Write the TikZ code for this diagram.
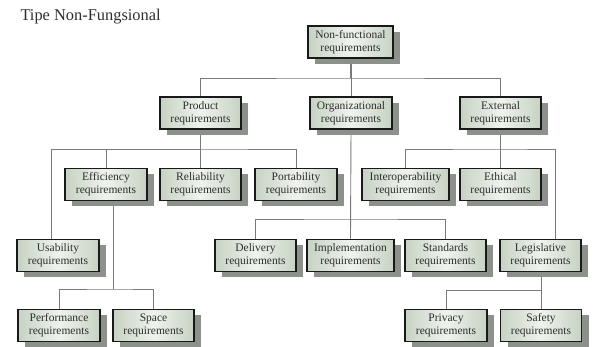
\documentclass[tikz,border=0pt]{standalone}
\usepackage{fontspec}
\setmainfont{Liberation Serif}
\usetikzlibrary{shadows,backgrounds}
\definecolor{boxedge}{HTML}{C6D2C3}
\definecolor{boxmid}{HTML}{EFF3ED}
\definecolor{shadowgray}{HTML}{8C918C}
\definecolor{linegray}{HTML}{7A7A7A}
\definecolor{txt}{HTML}{2E2E2E}
\tikzset{
  reqbox/.style={draw=black!90, line width=1.8pt, left color=boxedge, right color=boxedge, middle color=boxmid,
    align=center, inner sep=0pt, minimum height=32pt, minimum width=#1, text=txt,
    font=\fontsize{11.5}{12.8}\selectfont,
    general shadow={fill=shadowgray, shadow xshift=7pt, shadow yshift=-6pt}},
  reqbox/.default=81pt,
  conn/.style={draw=linegray, line width=0.9pt}
}
\begin{document}
\begin{tikzpicture}[x=1pt,y=-1pt]
\useasboundingbox (0,0) rectangle (595,347);
\node[anchor=base west, text=txt, font=\fontsize{16.4}{18}\selectfont] (title) at (17,21) {Tipe Non-Fungsional};
% level 0
\node[reqbox=85pt] (nf) at (350.5,42) {Non-functional\\requirements};
% level 1
\node[reqbox] (prod) at (200.5,113) {Product\\requirements};
\node[reqbox=82pt] (org) at (351,113) {Organizational\\requirements};
\node[reqbox] (ext) at (500.5,113) {External\\requirements};
% level 2
\node[reqbox=82pt] (eff) at (106,184.5) {Efficiency\\requirements};
\node[reqbox] (rel) at (200.5,184.5) {Reliability\\requirements};
\node[reqbox=82pt] (port) at (296,184.5) {Portability\\requirements};
\node[reqbox=87pt] (inter) at (405.5,184.5) {Interoperability\\requirements};
\node[reqbox] (eth) at (500.5,184.5) {Ethical\\requirements};
% level 3
\node[reqbox=82pt] (usab) at (58,255.5) {Usability\\requirements};
\node[reqbox] (deliv) at (255.5,255.5) {Delivery\\requirements};
\node[reqbox=87pt] (impl) at (350.5,255.5) {Implementation\\requirements};
\node[reqbox] (stand) at (445.5,255.5) {Standards\\requirements};
\node[reqbox] (legis) at (540.5,255.5) {Legislative\\requirements};
% level 4
\node[reqbox=82pt] (perf) at (59,325.5) {Performance\\requirements};
\node[reqbox] (space) at (153.5,325.5) {Space\\requirements};
\node[reqbox=82pt] (priv) at (446,325.5) {Privacy\\requirements};
\node[reqbox] (safe) at (541,325.5) {Safety\\requirements};
% junctions
\coordinate (j0) at (350.5,78);
\coordinate (jp) at (51,149);
\coordinate (jpr) at (200.5,149);
\coordinate (je) at (555,149);
\coordinate (jex) at (500.5,149);
\coordinate (jo) at (351,219);
\coordinate (jeff) at (113,289);
\coordinate (jeffb) at (113,201);
\coordinate (jl) at (541,290);
\coordinate (jlb) at (541,271.5);
\begin{scope}[on background layer]
\draw[conn] (nf.south) -- (j0);
\draw[conn] (prod.north) |- (j0) -| (ext.north);
\draw[conn] (nf.south -| org.north) -- (org.north);
% product children
\draw[conn] (prod.south) -- (rel.north);
\draw[conn] (usab.north -| jp) |- (jpr) -| (port.north);
\draw[conn] (jpr) -| (eff.north);
% external children
\draw[conn] (ext.south) -- (eth.north);
\draw[conn] (inter.north) |- (jex) -| (je) -- (je |- legis.north);
% organizational children
\draw[conn] (org.south) -- (impl.north);
\draw[conn] (deliv.north) |- (jo) -| (stand.north);
% efficiency children
\draw[conn] (jeffb) -- (jeff);
\draw[conn] (perf.north) |- (jeff) -| (space.north);
% legislative children
\draw[conn] (jlb) -- (jl);
\draw[conn] (priv.north) |- (jl) -- (safe.north);
\end{scope}
\end{tikzpicture}
\end{document}
